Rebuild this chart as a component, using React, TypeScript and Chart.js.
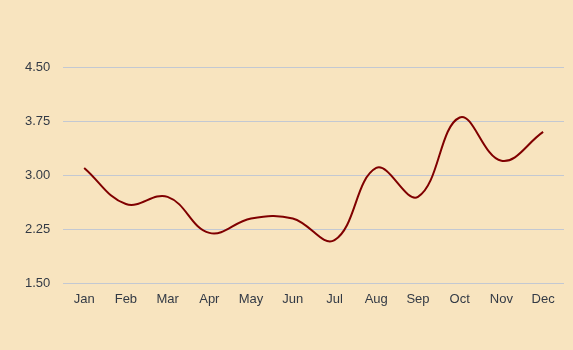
import React, { useEffect, useRef } from "react";
import { Chart, registerables } from "chart.js";

Chart.register(...registerables);

const months = ["Jan", "Feb", "Mar", "Apr", "May", "Jun", "Jul", "Aug", "Sep", "Oct", "Nov", "Dec"];
const values = [3.1, 2.6, 2.7, 2.2, 2.4, 2.4, 2.1, 3.1, 2.7, 3.8, 3.2, 3.6];
const yMin = 1.5;
const yMax = 4.5;
const yStep = 0.75;

export default function App() {
  const ref = useRef<HTMLCanvasElement>(null);
  useEffect(() => {
    if (!ref.current) return;
    const chart = new Chart(ref.current, {
      type: "line",
      data: {
        labels: months,
        datasets: [
          {
            data: values,
            borderColor: "#800000",
            borderWidth: 2,
            tension: 0.4,
            pointRadius: 0,
            fill: false,
          },
        ],
      },
      options: {
        animation: false,
        responsive: false,
        layout: { padding: { top: 67, bottom: 35, left: 12, right: 9 } },
        plugins: { legend: { display: false }, tooltip: { enabled: false } },
        scales: {
          x: {
            offset: true,
            grid: { display: false, drawTicks: false },
            border: { display: false },
            ticks: { color: "#333a45", font: { family: "Liberation Sans, Arial", size: 13 }, padding: 8 },
          },
          y: {
            min: yMin,
            max: yMax,
            border: { display: false },
            grid: { color: "#c3c8d2", drawTicks: false },
            ticks: {
              stepSize: yStep,
              color: "#333a45",
              padding: 13,
              font: { family: "Liberation Sans, Arial", size: 13 },
              callback: (v: any) => Number(v).toFixed(2),
            },
          },
        },
      },
      plugins: [
        {
          id: "bg",
          beforeDraw: (c: any) => {
            const ctx = c.ctx;
            ctx.save();
            ctx.fillStyle = "#f8e4bf";
            ctx.fillRect(0, 0, c.width, c.height);
            ctx.restore();
          },
        },
      ],
    });
    return () => chart.destroy();
  }, []);
  return (
    <div style={{ position: "fixed", left: 0, top: 0, width: 573, height: 350 }}>
      <canvas ref={ref} width={573} height={350} style={{ display: "block" }} />
    </div>
  );
}
